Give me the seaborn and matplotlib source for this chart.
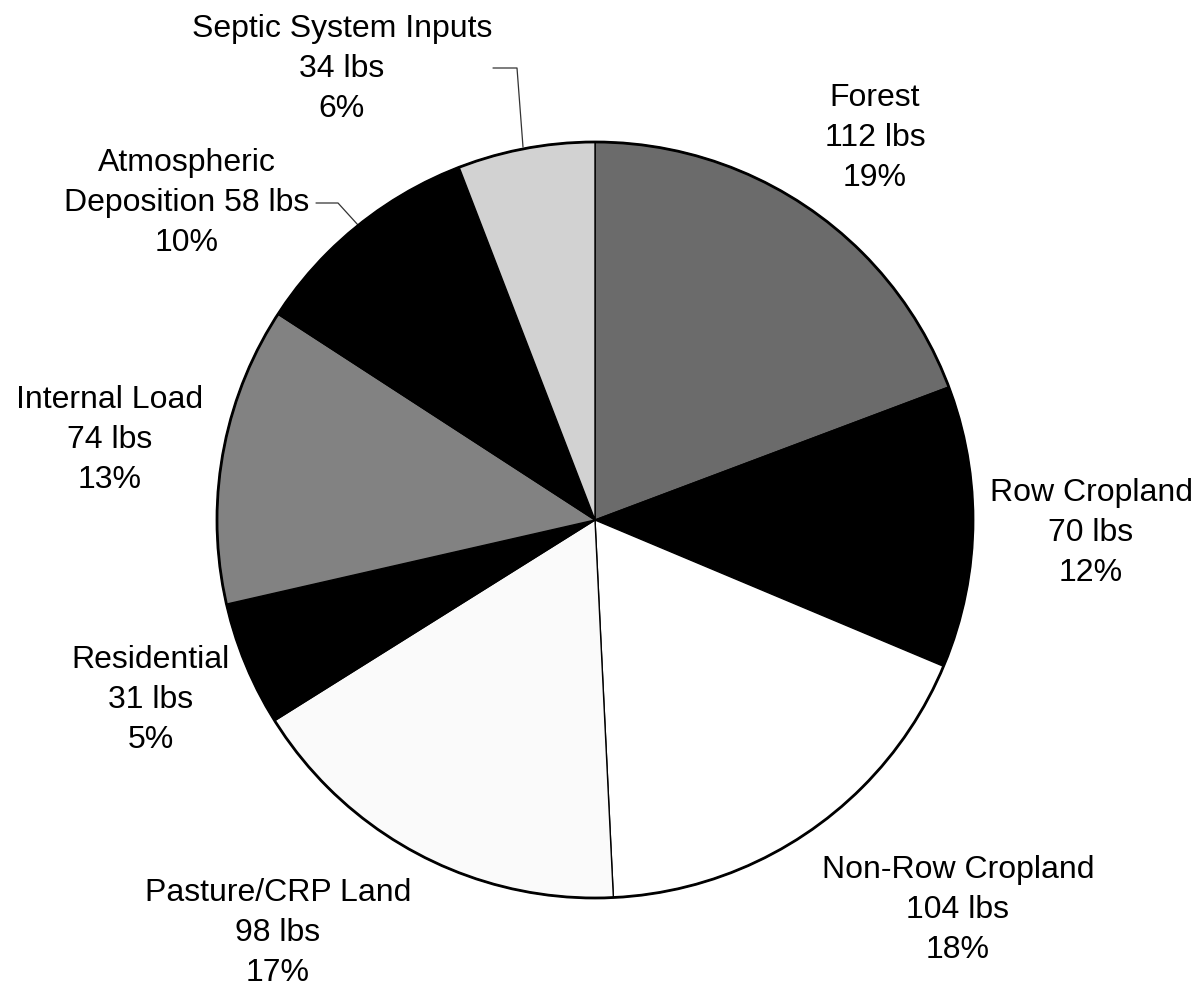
import matplotlib
matplotlib.use("Agg")
import matplotlib.pyplot as plt
import seaborn as sns
from matplotlib.patches import Circle

# ---- data ----
categories = ["Forest", "Row Cropland", "Non-Row Cropland", "Pasture/CRP Land",
              "Residential", "Internal Load", "Atmospheric\nDeposition", "Septic System Inputs"]
loads_lbs = [112, 70, 104, 98, 31, 74, 58, 34]
name_sep = ["\n", "\n", "\n", "\n", "\n", "\n", " ", "\n"]
slice_colors = ["#6b6b6b", "#000000", "#ffffff", "#fafafa",
                "#000000", "#828282", "#000000", "#d2d2d2"]

sns.set_theme(style="white")
plt.rcParams["font.family"] = ["Liberation Sans", "DejaVu Sans"]

W, H = 1198, 986
fig = plt.figure(figsize=(W / 100, H / 100), dpi=100)
ax = fig.add_axes([0, 0, 1, 1])

cx, cy, R = 595, H - 520, 378
wedges, _ = ax.pie(loads_lbs, colors=slice_colors, startangle=90, counterclock=False,
                   center=(cx, cy), radius=R,
                   wedgeprops=dict(edgecolor="black", linewidth=1.0))
ax.add_patch(Circle((cx, cy), R, fill=False, edgecolor="black", linewidth=2.0, zorder=5))
ax.set_xlim(0, W)
ax.set_ylim(0, H)
ax.set_aspect("equal")
ax.axis("off")

total = sum(loads_lbs)
labels = [f"{n}{s}{v} lbs\n{round(100 * v / total)}%"
          for n, s, v in zip(categories, name_sep, loads_lbs)]

# label block centres (pixel coords from top-left)
label_pos = [(875, 138), (1091, 533), (958, 910), (278, 933),
             (151, 700), (110, 440), (187, 203), (342, 69)]
for text, (x, y) in zip(labels, label_pos):
    ax.text(x, H - y, text, ha="center", va="center", fontsize=23,
            linespacing=1.43, color="black")

# leader lines
ax.plot([316, 338, 358], [H - 203, H - 203, H - 225], color="#333333", lw=0.9)
ax.plot([493, 517, 523], [H - 68, H - 68, H - 147], color="#333333", lw=0.9)

fig.savefig("out.png", dpi=100, facecolor="white")
